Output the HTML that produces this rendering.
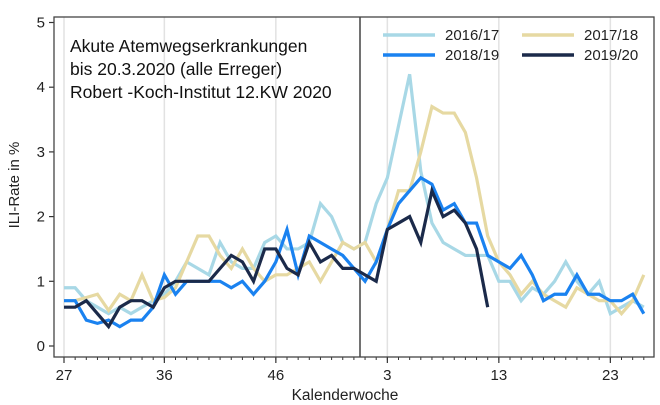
<!DOCTYPE html>
<html><head><meta charset="utf-8"><style>
body{margin:0;background:#fff;}
svg{display:block;font-family:"Liberation Sans",Arial,sans-serif;}
</style></head><body>
<svg id="chart" width="660" height="405"></svg>
<script>
const weekLabels=["27","36","46","3","13","23"];
const weekIdx=[0,9,19,29,39,49];
const yTicks=[0,1,2,3,4,5];
const s1617=[0.9,0.9,0.7,0.6,0.5,0.6,0.5,0.6,0.7,0.8,1.0,1.3,1.2,1.1,1.6,1.3,1.2,1.2,1.6,1.7,1.5,1.5,1.6,2.2,2.0,1.6,1.5,1.6,2.2,2.6,3.4,4.2,2.7,1.9,1.6,1.5,1.4,1.4,1.4,1.0,1.0,0.7,0.9,0.8,1.0,1.3,1.0,0.8,1.0,0.5,0.6,0.7,0.6];
const s1718=[0.7,0.7,0.75,0.8,0.55,0.8,0.7,1.1,0.7,0.75,0.9,1.3,1.7,1.7,1.4,1.2,1.5,1.2,1.0,1.1,1.1,1.2,1.3,1.0,1.3,1.6,1.5,1.6,1.3,1.8,2.4,2.4,3.0,3.7,3.6,3.6,3.3,2.6,1.7,1.3,1.1,0.8,1.0,0.8,0.7,0.6,0.9,0.8,0.7,0.7,0.5,0.7,1.1];
const s1819=[0.7,0.7,0.4,0.35,0.4,0.3,0.4,0.4,0.6,1.1,0.8,1.0,1.0,1.0,1.0,0.9,1.0,0.8,1.0,1.3,1.8,1.1,1.7,1.6,1.5,1.4,1.2,1.0,1.3,1.8,2.2,2.4,2.6,2.5,2.1,2.2,1.9,1.9,1.4,1.3,1.2,1.4,1.1,0.7,0.8,0.8,1.1,0.8,0.8,0.7,0.7,0.8,0.5];
const s1920=[0.6,0.6,0.7,0.5,0.3,0.6,0.7,0.7,0.6,0.9,1.0,1.0,1.0,1.0,1.2,1.4,1.3,1.0,1.5,1.5,1.2,1.1,1.6,1.3,1.4,1.2,1.2,1.1,1.0,1.8,1.9,2.0,1.6,2.4,2.0,2.1,1.9,1.5,0.6];
const seriesNames=["2016/17","2017/18","2018/19","2019/20"];
const colors=["#a8d8e6","#e6d9a2","#1a82f0","#1b2a4a"];
const L=54,R=654,T=17,B=357;
const X=i=>64+i*11.15;
const Y=v=>346-v*64.7;
const svg=document.getElementById('chart');
const NS="http://www.w3.org/2000/svg";
function el(t,a,p){const e=document.createElementNS(NS,t);for(const k in a)e.setAttribute(k,a[k]);(p||svg).appendChild(e);return e;}
weekIdx.forEach((i,k)=>{const g=el('line',{x1:X(i),x2:X(i),y1:T,y2:B,stroke:'#e2e2e2','stroke-width':1.5});

});
for(let i=0;i<=52;i++){const t=el('line',{x1:X(i),x2:X(i),y1:B,y2:B+3,stroke:'#333','stroke-width':1});

}
weekIdx.forEach((i,k)=>{const t=el('line',{x1:X(i),x2:X(i),y1:B,y2:B+6,stroke:'#333','stroke-width':1.2});


const tx=el('text',{x:X(i),y:B+23,'text-anchor':'middle','font-size':15,fill:'#222'});tx.textContent=weekLabels[k];

});
yTicks.forEach(v=>{const t=el('line',{x1:L-5,x2:L,y1:Y(v),y2:Y(v),stroke:'#333','stroke-width':1.2});


const tx=el('text',{x:L-9,y:Y(v)+5,'text-anchor':'end','font-size':15,fill:'#222'});tx.textContent=v;

});
const dv=el('line',{x1:360,x2:360,y1:T,y2:B,stroke:'#444','stroke-width':1.5});


[s1617,s1718,s1819,s1920].forEach((s,k)=>{const p=el('polyline',{points:s.map((v,i)=>X(i)+','+Y(v)).join(' '),fill:'none',stroke:colors[k],'stroke-width':3.2,'stroke-linejoin':'miter'});

});
const fr=el('rect',{x:L,y:T,width:R-L,height:B-T,fill:'none',stroke:'#444','stroke-width':1.3});


const lp=[[383,40],[522,40],[383,60],[522,60]];
seriesNames.forEach((n,k)=>{const ln=el('line',{x1:lp[k][0],x2:lp[k][0]+52,y1:lp[k][1]-5,y2:lp[k][1]-5,stroke:colors[k],'stroke-width':3.5});


const t=el('text',{x:lp[k][0]+62,y:lp[k][1],'font-size':15,fill:'#222'});t.textContent=n;

});
["Akute Atemwegserkrankungen","bis 20.3.2020 (alle Erreger)","Robert -Koch-Institut 12.KW 2020"].forEach((s,k)=>{const t=el('text',{x:70,y:52+k*23,'font-size':17.5,fill:'#111'});t.textContent=s;

});
const xt=el('text',{x:345,y:400,'text-anchor':'middle','font-size':15.5,fill:'#222'});xt.textContent="Kalenderwoche";


const yt=el('text',{x:0,y:0,'text-anchor':'middle','font-size':15,fill:'#222',transform:'translate(19,185) rotate(-90)'});yt.textContent="ILI-Rate in %";


</script>
</body></html>
